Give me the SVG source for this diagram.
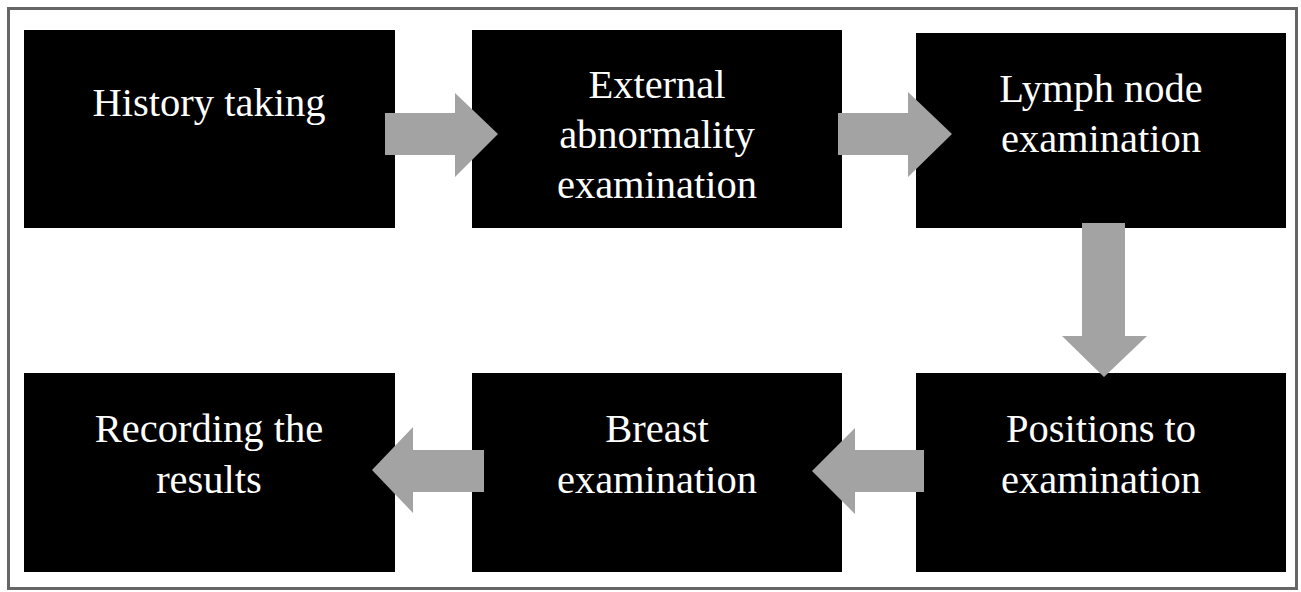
<svg xmlns="http://www.w3.org/2000/svg" width="1301" height="592" viewBox="0 0 1301 592">
<defs>
<style>
.box{fill:#000}
.t{fill:#fff;font-family:"Liberation Serif","Times New Roman",serif;font-size:40.5px;text-anchor:middle}
.arr{fill:#a3a3a3}
</style>
</defs>
<rect x="0" y="0" width="1301" height="592" fill="#fff"/>
<rect x="8.5" y="8.5" width="1288" height="580" fill="none" stroke="#666" stroke-width="3"/>
<g id="n1"><rect class="box" x="24" y="30" width="371" height="198"/><text class="t" x="209" y="116">History taking</text></g>
<g id="n2"><rect class="box" x="472" y="30" width="370" height="198"/><text class="t" x="657" y="98">External</text><text class="t" x="657" y="148">abnormality</text><text class="t" x="657" y="198">examination</text></g>
<g id="n3"><rect class="box" x="916" y="33" width="370" height="195"/><text class="t" x="1101" y="102">Lymph node</text><text class="t" x="1101" y="152">examination</text></g>
<g id="n4"><rect class="box" x="916" y="373" width="370" height="199"/><text class="t" x="1101" y="442">Positions to</text><text class="t" x="1101" y="493">examination</text></g>
<g id="n5"><rect class="box" x="472" y="373" width="370" height="199"/><text class="t" x="657" y="442">Breast</text><text class="t" x="657" y="493">examination</text></g>
<g id="n6"><rect class="box" x="24" y="373" width="371" height="199"/><text class="t" x="209" y="442">Recording the</text><text class="t" x="209" y="493">results</text></g>
<g id="connectors">
<polygon class="arr" points="385,113 455,113 455,93 498,134 455,177 455,155 385,155"/>
<polygon class="arr" points="838,113 908,113 908,92 952,134 908,177 908,155 838,155"/>
<polygon class="arr" points="1082,223 1125,223 1125,336 1147,336 1104,377 1062,336 1082,336"/>
<polygon class="arr" points="924,450 855,450 855,428 812,471 855,514 855,492 924,492"/>
<polygon class="arr" points="484,450 413,450 413,427 372,470 413,513 413,492 484,492"/>
</g>
</svg>
